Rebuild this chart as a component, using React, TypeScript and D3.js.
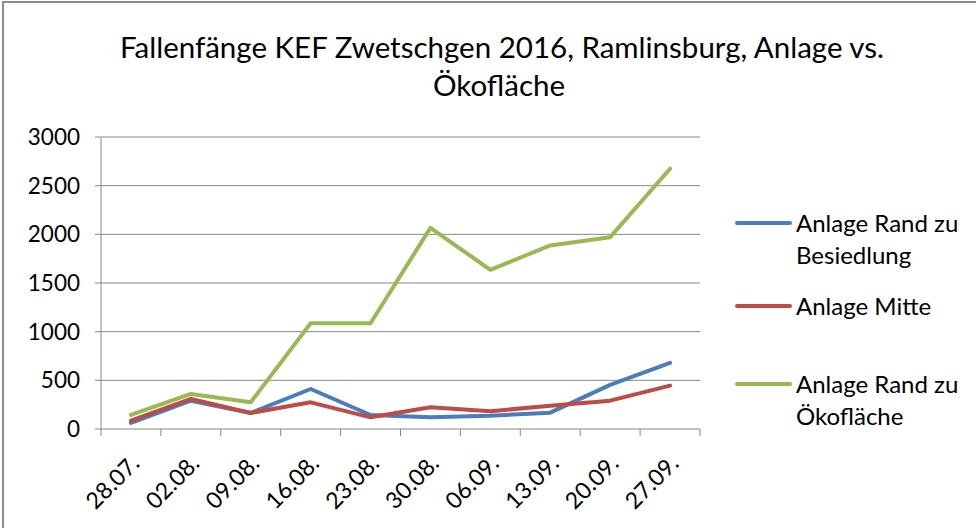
import React from "react";
import * as d3 from "d3";

const categories = ["28.07.", "02.08.", "09.08.", "16.08.", "23.08.", "30.08.", "06.09.", "13.09.", "20.09.", "27.09."];
const besiedlung = [62, 291, 165, 411, 144, 120, 137, 168, 453, 679];
const mitte = [86, 309, 165, 274, 120, 223, 182, 240, 291, 446];
const oekoflaeche = [144, 360, 274, 1087, 1087, 2067, 1635, 1886, 1971, 2674];
const yTicks = [0, 500, 1000, 1500, 2000, 2500, 3000];

const series = [
  { name: ["Anlage Rand zu", "Besiedlung"], values: besiedlung, color: "#4A7EBB", ly: 223 },
  { name: ["Anlage Mitte"], values: mitte, color: "#BE4B48", ly: 306 },
  { name: ["Anlage Rand zu", "Ökofläche"], values: oekoflaeche, color: "#98B954", ly: 384 },
];

const W = 976;
const H = 528;
const left = 101;
const right = 700;
const top = 137;
const bottom = 429;
const font = "Lato, 'Open Sans', sans-serif";

export default function App() {
  const x = d3.scaleBand<string>().domain(categories).range([left, right]);
  const y = d3.scaleLinear().domain([0, 3000]).range([bottom, top]);
  const line = d3
    .line<number>()
    .x((_, i) => (x(categories[i]) as number) + x.bandwidth() / 2)
    .y((d) => y(d));

  const bounds = categories.map((c) => x(c) as number).concat([right]);

  return (
    <svg
      width={W}
      height={H}
      style={{ position: "absolute", left: 0, top: 0, background: "#fff" }}
    >
      <rect x={3} y={2} width={W + 20} height={H + 20} fill="#fff" stroke="#8c8c8c" strokeWidth={2} />
      <text x={502} y={58} textAnchor="middle" fontFamily={font} fontSize={29.5} fill="#000">
        Fallenfänge KEF Zwetschgen 2016, Ramlinsburg, Anlage vs.
      </text>
      <text x={499} y={96} textAnchor="middle" fontFamily={font} fontSize={29.5} fill="#000">
        Ökofläche
      </text>

      {yTicks.map((t) => (
        <g key={t}>
          <line x1={left - 6} x2={right} y1={y(t)} y2={y(t)} stroke="#868686" strokeWidth={1} />
          <text x={80} y={y(t) + 8} textAnchor="end" fontFamily={font} fontSize={22.5} fill="#000">
            {t}
          </text>
        </g>
      ))}
      <line x1={left} x2={left} y1={top} y2={bottom} stroke="#868686" strokeWidth={1} />
      {bounds.map((b, i) => (
        <line key={i} x1={b} x2={b} y1={bottom} y2={bottom + 7} stroke="#868686" strokeWidth={1} />
      ))}
      {categories.map((c) => {
        const cx = (x(c) as number) + x.bandwidth() / 2 + 10;
        const cy = bottom + 36;
        return (
          <text
            key={c}
            x={cx}
            y={cy}
            textAnchor="end"
            transform={`rotate(-45 ${cx} ${cy})`}
            fontFamily={font}
            fontSize={23}
            fill="#000"
          >
            {c}
          </text>
        );
      })}

      {series.map((s) => (
        <path
          key={s.color}
          d={line(s.values) as string}
          fill="none"
          stroke={s.color}
          strokeWidth={4}
          strokeLinejoin="round"
          strokeLinecap="round"
        />
      ))}

      {series.map((s) => (
        <g key={"l" + s.color}>
          <line x1={737} x2={790} y1={s.ly} y2={s.ly} stroke={s.color} strokeWidth={4} strokeLinecap="round" />
          {s.name.map((n, i) => (
            <text key={n} x={796} y={s.ly + 9 + i * 32} fontFamily={font} fontSize={24} fill="#000">
              {n}
            </text>
          ))}
        </g>
      ))}
    </svg>
  );
}
